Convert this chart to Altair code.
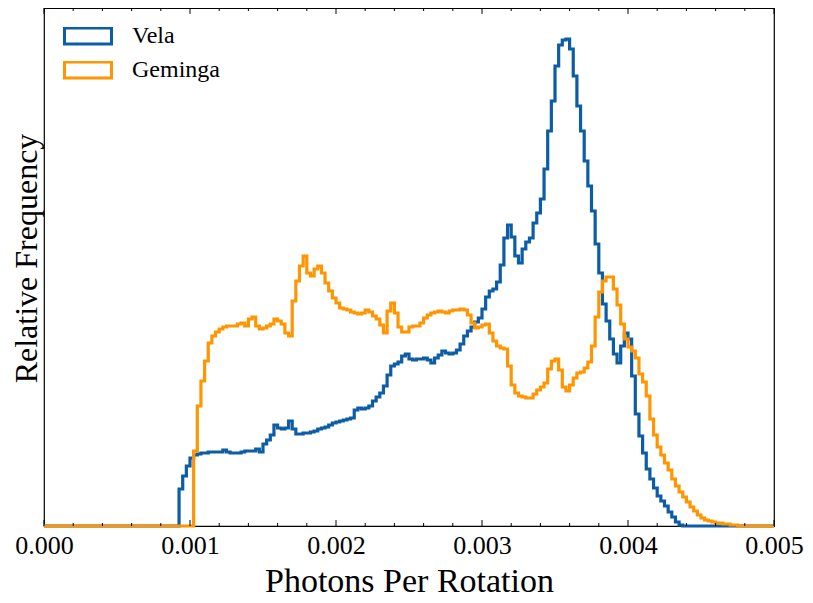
import altair as alt
import pandas as pd

# ---- data (arbitrary frequency units) ----
BIN = 0.000025
series_names = ["Vela", "Geminga"]
series_colors = ["#0C5DA5", "#FF9500"]

vela_start_bin = 37  # first non-empty bin starts at 0.000925
vela_counts = [37, 50, 60, 68, 71, 72, 73, 73, 74, 74, 74, 74, 76, 74, 73, 73, 73, 74,
               75, 75, 75, 77, 74, 82, 86, 91, 101, 98, 97, 98, 105, 97, 92, 92, 93, 93,
               94, 95, 97, 98, 99, 101, 103, 104, 105, 106, 107, 108, 116, 118, 117, 118,
               120, 125, 129, 133, 140, 151, 160, 162, 164, 170, 172, 167, 166, 167, 167,
               168, 166, 163, 168, 171, 175, 173, 172, 173, 176, 182, 190, 195, 199, 204,
               208, 217, 229, 235, 237, 244, 261, 288, 301, 289, 270, 263, 277, 284, 288,
               303, 313, 327, 357, 395, 425, 460, 481, 486, 487, 477, 450, 420, 395, 365,
               340, 315, 282, 253, 222, 205, 187, 172, 163, 180, 193, 187, 150, 112, 90,
               73, 57, 47, 38, 30, 25, 20, 14, 9, 4, 1]

gem_start_bin = 41  # first non-empty bin starts at 0.001025
gem_counts = [75, 120, 145, 165, 183, 190, 194, 197, 199, 200, 200, 200, 202, 203, 200,
              207, 209, 200, 197, 198, 200, 202, 207, 205, 202, 193, 190, 225, 245, 260,
              270, 253, 250, 257, 260, 253, 243, 235, 228, 223, 218, 217, 216, 214, 213,
              212, 213, 216, 214, 210, 207, 201, 193, 215, 223, 213, 199, 194, 194, 199,
              200, 200, 203, 208, 211, 213, 214, 215, 214, 213, 215, 216, 216, 217, 216,
              211, 203, 198, 199, 201, 202, 193, 185, 180, 178, 177, 160, 141, 133, 130,
              129, 128, 128, 132, 136, 139, 143, 157, 165, 167, 156, 139, 135, 141, 148,
              153, 154, 158, 164, 180, 209, 234, 245, 249, 249, 237, 221, 202, 187, 179,
              175, 168, 152, 144, 130, 107, 91, 79, 71, 63, 56, 47, 40, 34, 29, 24, 19, 15,
              11, 8, 6, 5, 4, 3, 3, 2, 2, 1, 1]

x_major = [0.0, 0.001, 0.002, 0.003, 0.004, 0.005]
x_minor = [0.0002, 0.0004, 0.0006, 0.0008, 0.0012, 0.0014, 0.0016, 0.0018,
           0.0022, 0.0024, 0.0026, 0.0028, 0.0032, 0.0034, 0.0036, 0.0038,
           0.0042, 0.0044, 0.0046, 0.0048]
X_MIN, X_MAX = 0.0, 0.005
Y_MAX = 518

FONT = "Liberation Serif"
W, H = 730, 518


def step_rows(name, start, counts):
    rows = [{"series": name, "x": X_MIN, "y": 0}]
    for i, c in enumerate(counts):
        rows.append({"series": name, "x": round((start + i) * BIN, 7), "y": c})
    rows.append({"series": name, "x": round((start + len(counts)) * BIN, 7), "y": 0})
    rows.append({"series": name, "x": X_MAX, "y": 0})
    return rows


vela_df = pd.DataFrame(step_rows("Vela", vela_start_bin, vela_counts))
gem_df = pd.DataFrame(step_rows("Geminga", gem_start_bin, gem_counts))
major_df = pd.DataFrame({"t": x_major})
minor_df = pd.DataFrame({"t": x_minor})

xscale = alt.Scale(domain=[X_MIN, X_MAX], nice=False, zero=False)
yscale = alt.Scale(domain=[0, Y_MAX], nice=False, zero=True)

color = alt.Color(
    "series:N",
    scale=alt.Scale(domain=series_names, range=series_colors),
    legend=alt.Legend(
        title=None,
        orient="none",
        legendX=19,
        legendY=19,
        symbolType="M-1,-0.34L1,-0.34L1,0.34L-1,0.34Z",
        symbolSize=2209,
        symbolStrokeWidth=3,
        symbolFillColor="white",
        clipHeight=18,
        rowPadding=10,
        labelOffset=19,
        labelFont=FONT,
        labelFontSize=24,
        labelColor="black",
        padding=0,
    ),
)

xaxis = alt.Axis(
    values=x_major,
    format=".3f",
    ticks=False,
    domain=False,
    grid=False,
    labelFlush=False,
    labelPadding=6,
    labelFont=FONT,
    title="Photons Per Rotation",
    titleFont=FONT,
    titleFontSize=34,
    titleY=65,
    titleBaseline="alphabetic",
)
yaxis = alt.Axis(
    labels=False,
    ticks=False,
    domain=False,
    grid=False,
    title="Relative Frequency",
    titleFont=FONT,
    titleFontSize=32,
    titleX=-7.5,
    titleY=250,
    titleBaseline="alphabetic",
)


def line_layer(df):
    return alt.Chart(df).mark_line(
        interpolate="step-after", strokeWidth=3.2
    ).encode(
        x=alt.X("x:Q", scale=xscale, axis=xaxis),
        y=alt.Y("y:Q", scale=yscale, axis=yaxis),
        color=color,
    )


vela_line = line_layer(vela_df)
gem_line = line_layer(gem_df)


def tick_layer(df, y0, y1):
    return alt.Chart(df).mark_rule(color="black", strokeWidth=1).encode(
        x=alt.X("t:Q", scale=xscale),
        y=alt.value(y0),
        y2=alt.value(y1),
    )


ticks = (
    tick_layer(major_df, H, H - 6)
    + tick_layer(major_df, 0, 6)
    + tick_layer(minor_df, H, H - 3)
    + tick_layer(minor_df, 0, 3)
)

chart = (
    alt.layer(vela_line, gem_line, ticks)
    .properties(
        width=W,
        height=H,
        autosize=alt.AutoSizeParams(type="none"),
        padding={"left": 36, "top": 0, "right": 30, "bottom": 74},
        background="white",
    )
    .configure(font=FONT)
    .configure_view(stroke="black", strokeWidth=1.2)
    .configure_axis(
        labelFont=FONT,
        labelFontSize=26,
        labelColor="black",
        titleFont=FONT,
        titleFontWeight="normal",
        titleColor="black",
    )
    .configure_legend(labelFont=FONT)
)

chart.save("out.html", embed_options={"renderer": "svg", "actions": False})
